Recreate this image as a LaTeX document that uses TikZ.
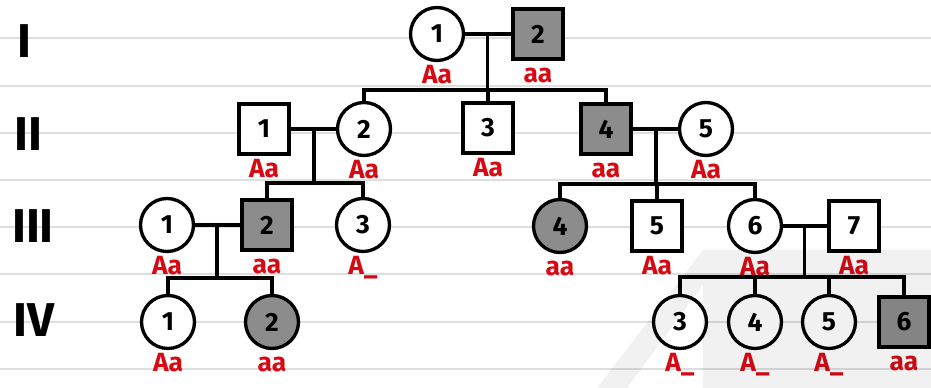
\documentclass[tikz,border=0pt]{standalone}
\usepackage{fontspec}
\setmainfont{Fira Sans}
\usetikzlibrary{calc}
\definecolor{genored}{RGB}{215,10,20}
\definecolor{ruleline}{RGB}{222,222,222}
\tikzset{
  person/.style={draw, line width=1.9pt, fill=white, inner sep=0pt, font=\fontsize{15}{15}\selectfont\bfseries},
  fem/.style={person, circle, minimum size=1.06cm},
  mal/.style={person, rectangle, minimum size=1.0cm},
  hit/.style={fill=black!45},
  geno/.style={text=genored, font=\fontsize{15}{15}\selectfont\bfseries, inner sep=0pt, text height=10pt, text depth=0pt},
  gen/.style={font=\fontsize{27}{27}\selectfont\bfseries},
  kin/.style={line width=1.9pt}
}
\begin{document}
\begin{tikzpicture}[x=0.02cm, y=-0.02cm, label distance=2pt]
\useasboundingbox (0,0) rectangle (931,388);
% ruled paper
\foreach \ry in {38,86,133,180,227,274,322,369}
  \draw[ruleline, line width=1pt] (0,\ry) -- (931,\ry);

% generation numbers
\node[gen] (gI) at (24,41) {I};
\node[gen] (gII) at (28,134) {II};
\node[gen] (gIII) at (33,226) {III};
\node[gen] (gIV) at (34,320) {IV};

% generation I
\node[fem, label={[geno]below:Aa}] (i1) at (437,34) {1};
\node[mal, hit, label={[geno]below:aa}] (i2) at (538,34) {2};

% generation II
\node[mal, label={[geno]below:Aa}] (ii1) at (264,129) {1};
\node[fem, label={[geno]below:Aa}] (ii2) at (364,129) {2};
\node[mal, label={[geno]below:Aa}] (ii3) at (488,128) {3};
\node[mal, hit, label={[geno]below:aa}] (ii4) at (606,129) {4};
\node[fem, label={[geno]below:Aa}] (ii5) at (706,129) {5};

% generation III
\node[fem, label={[geno]below:Aa}] (iii1) at (167,225) {1};
\node[mal, hit, label={[geno]below:aa}] (iii2) at (267,225) {2};
\node[fem, label={[geno]below:A\_}] (iii3) at (363,225) {3};
\node[fem, hit, label={[geno]below:aa}] (iii4) at (560,226) {4};
\node[mal, label={[geno]below:Aa}] (iii5) at (657,226) {5};
\node[fem, label={[geno]below:Aa}] (iii6) at (755,226) {6};
\node[mal, label={[geno]below:Aa}] (iii7) at (854,226) {7};

% generation IV
\node[fem, label={[geno]below:Aa}] (iv1) at (168,322) {1};
\node[fem, hit, label={[geno]below:aa}] (iv2) at (272,322) {2};
\node[fem, label={[geno]below:A\_}] (iv3) at (680,322) {3};
\node[fem, label={[geno]below:A\_}] (iv4) at (755,322) {4};
\node[fem, label={[geno]below:A\_}] (iv5) at (829,322) {5};
\node[mal, hit, label={[geno]below:aa}] (iv6) at (904,322) {6};

% couples and sibships
\draw[kin] (i1) -- (i2);
\coordinate (m1) at ($(i1)!.5!(i2)$);
\draw[kin] (m1) -- ++(0,56) coordinate (s1);
\draw[kin] (ii2) |- (s1) -| (ii4);
\draw[kin] (ii3) -- (ii3 |- s1);

\draw[kin] (ii1) -- (ii2);
\coordinate (m2) at ($(ii1)!.5!(ii2)$);
\draw[kin] (m2) -- ++(0,54) coordinate (s2);
\draw[kin] (iii2) |- (s2) -| (iii3);

\draw[kin] (ii4) -- (ii5);
\coordinate (m3) at ($(ii4)!.5!(ii5)$);
\draw[kin] (m3) -- ++(0,55) coordinate (s3);
\draw[kin] (iii4) |- (s3) -| (iii6);
\draw[kin] (iii5) -- (iii5 |- s3);

\draw[kin] (iii1) -- (iii2);
\coordinate (m4) at ($(iii1)!.5!(iii2)$);
\draw[kin] (m4) -- ++(0,53) coordinate (s4);
\draw[kin] (iv1) |- (s4) -| (iv2);

\draw[kin] (iii6) -- (iii7);
\coordinate (m5) at ($(iii6)!.5!(iii7)$);
\draw[kin] (m5) -- ++(0,51) coordinate (s5);
\draw[kin] (iv3) |- (s5) -| (iv6);
\draw[kin] (iv4) -- (iv4 |- s5);
\draw[kin] (iv5) -- (iv5 |- s5);

% watermark
\fill[black, opacity=0.055] (597,388) -- (703,250) -- (931,250) -- (931,388) -- (703,388) -- (703,285) -- (627,388) -- cycle;
\end{tikzpicture}
\end{document}
